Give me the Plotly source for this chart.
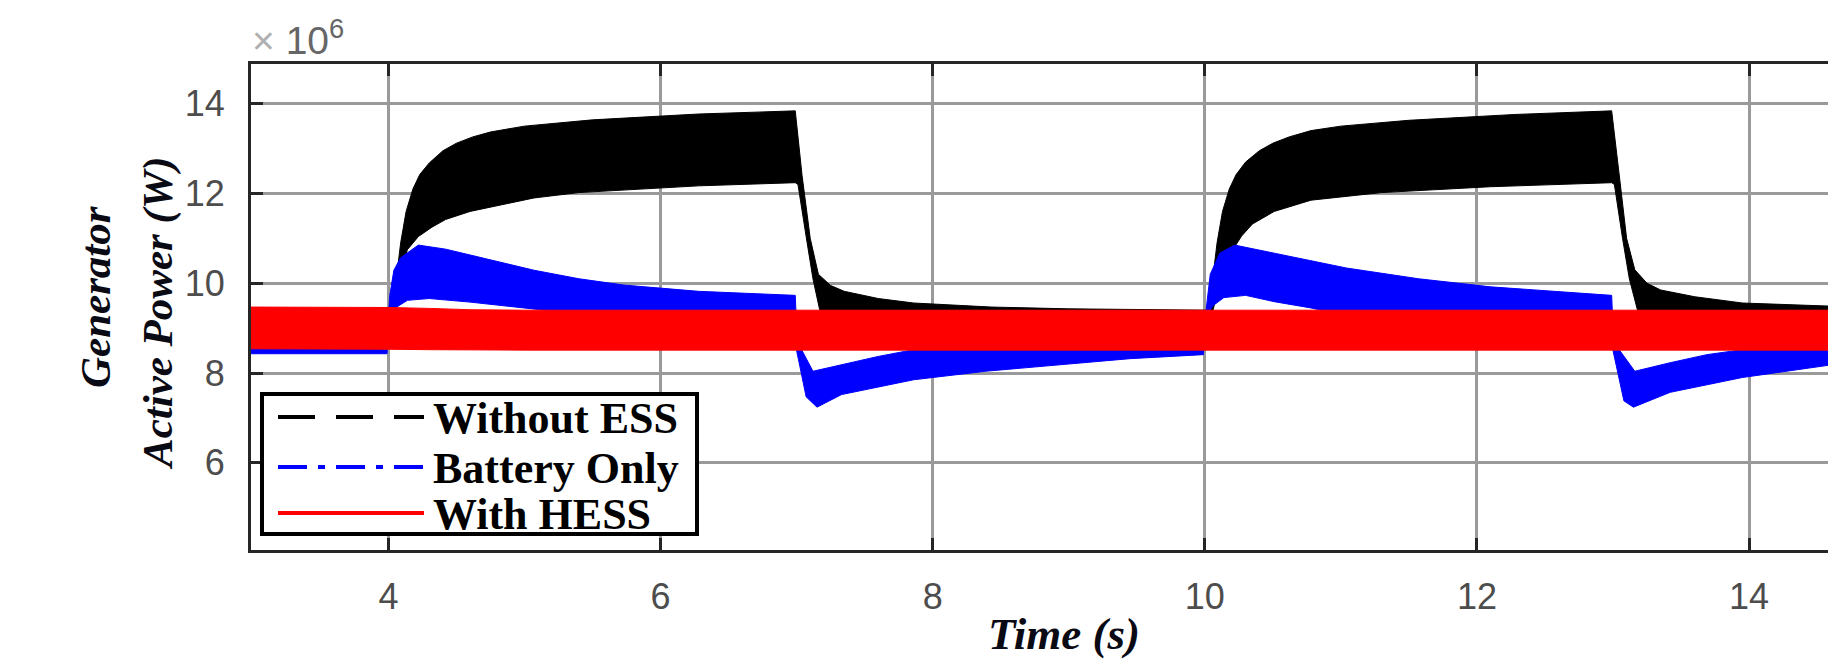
import plotly.graph_objects as go

# ---------------- data (MW, i.e. x10^6 W) ----------------
# Without ESS (black) - envelope of the oscillating trace
black_up_t = [2.98, 4.02, 4.05, 4.09, 4.13, 4.18, 4.23, 4.3, 4.4, 4.5, 4.62, 4.75, 5.0, 5.5, 6.28, 6.99,
              7.04, 7.1, 7.16, 7.25, 7.35, 7.6, 7.86, 8.43, 9.0, 10.02,
              10.05, 10.09, 10.13, 10.18, 10.23, 10.3, 10.4, 10.5, 10.62, 10.78, 11.0, 11.5, 12.28, 12.99,
              13.05, 13.1, 13.16, 13.25, 13.35, 13.6, 13.95, 14.6]
black_up_v = [9.3, 9.3, 9.9, 10.9, 11.6, 12.1, 12.42, 12.68, 12.95, 13.12, 13.26, 13.37, 13.5, 13.64, 13.77, 13.84,
              12.4, 11.0, 10.2, 9.95, 9.82, 9.66, 9.56, 9.47, 9.43, 9.40,
              9.9, 10.9, 11.6, 12.1, 12.42, 12.7, 12.95, 13.12, 13.26, 13.4, 13.5, 13.63, 13.76, 13.84,
              12.3, 11.0, 10.3, 10.0, 9.85, 9.7, 9.56, 9.49]
black_lo_t = [2.98, 4.02, 4.05, 4.09, 4.14, 4.22, 4.32, 4.42, 4.6, 4.75, 5.07, 5.4, 6.28, 6.99,
              7.01, 7.07, 7.12, 7.17, 7.3, 10.02,
              10.06, 10.12, 10.19, 10.27, 10.35, 10.51, 10.78, 11.3, 12.1, 12.99,
              13.01, 13.07, 13.12, 13.18, 13.3, 14.6]
black_lo_v = [8.7, 8.7, 9.5, 10.3, 10.75, 11.04, 11.25, 11.42, 11.6, 11.7, 11.9, 12.02, 12.17, 12.24,
              12.2, 11.04, 10.1, 9.4, 8.8, 8.8,
              9.4, 10.1, 10.67, 11.05, 11.32, 11.6, 11.85, 12.02, 12.15, 12.24,
              12.2, 11.0, 10.1, 9.4, 8.8, 8.8]

# Battery Only (blue)
blue_up_t = [2.98, 4.0, 4.01, 4.04, 4.09, 4.22, 4.42, 4.75, 5.07, 5.4, 5.73, 6.28, 6.99,
             7.0, 7.04, 7.12, 7.33, 7.6, 7.86, 8.3, 9.99,
             10.01, 10.04, 10.11, 10.22, 10.51, 11.04, 11.57, 12.1, 12.99,
             13.0, 13.05, 13.16, 13.42, 13.69, 13.95, 14.6]
blue_up_v = [9.3, 9.3, 9.73, 10.29, 10.57, 10.85, 10.76, 10.53, 10.29, 10.10, 9.96, 9.82, 9.73,
             9.0, 8.5, 8.04, 8.18, 8.37, 8.52, 8.7, 8.9,
             9.4, 10.2, 10.67, 10.85, 10.67, 10.34, 10.10, 9.92, 9.73,
             9.0, 8.5, 8.04, 8.23, 8.41, 8.52, 8.7]
blue_lo_t = [2.98, 3.99, 4.0, 4.05, 4.14, 4.3, 4.6, 5.0, 5.3, 6.99,
             7.0, 7.07, 7.15, 7.33, 7.86, 8.39, 8.92, 9.45, 9.99,
             10.0, 10.06, 10.14, 10.3, 10.51, 10.78, 11.0, 12.99,
             13.0, 13.08, 13.15, 13.42, 13.95, 14.6]
blue_lo_v = [8.43, 8.43, 9.2, 9.45, 9.62, 9.66, 9.58, 9.45, 9.35, 9.2,
             8.5, 7.47, 7.24, 7.52, 7.85, 8.04, 8.18, 8.32, 8.41,
             9.2, 9.5, 9.68, 9.73, 9.59, 9.45, 9.3, 9.2,
             8.5, 7.38, 7.24, 7.57, 7.9, 8.18]

# With HESS (red)
red_t = [2.98, 3.5, 4.0, 4.3, 4.6, 5.0, 6.0, 7.0, 8.0, 9.0, 10.0, 11.0, 12.0, 13.0, 14.0, 14.6]
red_up_v = [9.47, 9.47, 9.46, 9.44, 9.41, 9.40, 9.40, 9.40, 9.40, 9.40, 9.40, 9.40, 9.40, 9.40, 9.40, 9.40]
red_lo_v = [8.54, 8.54, 8.53, 8.52, 8.51, 8.51, 8.51, 8.51, 8.51, 8.51, 8.51, 8.51, 8.51, 8.51, 8.51, 8.51]

legend_names = ["Without ESS", "Battery Only", "With HESS"]
x_ticks = [4, 6, 8, 10, 12, 14]
y_ticks = [6, 8, 10, 12, 14]

# ---------------- layout geometry (pixels) ----------------
W, H = 1828, 663
L, R, T, B = 251, 1828, 64, 550


def px(x):
    return (x - L) / (R - L)


def py(y):
    return (B - y) / (B - T)


fig = go.Figure()


def band(t_lo, v_lo, t_up, v_up, color):
    fig.add_trace(go.Scatter(x=t_lo, y=v_lo, mode="lines", line=dict(color=color, width=1),
                             showlegend=False, hoverinfo="skip"))
    fig.add_trace(go.Scatter(x=t_up, y=v_up, mode="lines", line=dict(color=color, width=1),
                             fill="tonexty", fillcolor=color, showlegend=False, hoverinfo="skip"))


band(black_lo_t, black_lo_v, black_up_t, black_up_v, "#000000")
band(blue_lo_t, blue_lo_v, blue_up_t, blue_up_v, "#0000ff")
band(red_t, red_lo_v, red_t, red_up_v, "#ff0000")

axis_common = dict(
    showgrid=True, gridcolor="#9a9a9a", gridwidth=3,
    showline=True, linecolor="#262626", linewidth=3,
    ticks="inside", ticklen=12, tickwidth=2.5, tickcolor="#262626",
    tickfont=dict(family="Liberation Sans, Arial", size=36, color="#4d4d4d"),
    zeroline=False,
)
fig.update_xaxes(range=[2.99, 14.58], tickvals=x_ticks, mirror="ticks",
                 ticklabelstandoff=13, **axis_common)
fig.update_yaxes(range=[4.058, 14.884], tickvals=y_ticks, mirror=False,
                 ticklabelstandoff=16, **axis_common)

shapes = []
annotations = []

# custom legend box
shapes.append(dict(type="rect", xref="paper", yref="paper",
                   x0=px(262), x1=px(697), y0=py(534), y1=py(394),
                   line=dict(color="#000000", width=4), fillcolor="#ffffff", layer="above"))
leg_styles = [("#000000", "37px,21px"), ("#0000ff", "29px,11px,7px,11px"), ("#ff0000", "solid")]
leg_rows = [417, 467, 513]
for (col, dash), ry, name in zip(leg_styles, leg_rows, legend_names):
    shapes.append(dict(type="line", xref="paper", yref="paper",
                       x0=px(278), x1=px(424), y0=py(ry), y1=py(ry),
                       line=dict(color=col, width=4, dash=dash), layer="above"))
    annotations.append(dict(xref="paper", yref="paper", x=px(431), y=py(ry + 1),
                            xanchor="left", yanchor="middle", showarrow=False,
                            text="<b>%s</b>" % name,
                            font=dict(family="Liberation Serif, Times New Roman", size=44, color="#000000")))

# axis titles
title_font = dict(family="Liberation Serif, Times New Roman", size=43, color="#0a0a14")
annotations.append(dict(xref="paper", yref="paper", x=px(95), y=py(297), textangle=-90,
                        xanchor="center", yanchor="middle", showarrow=False,
                        text="<b><i>Generator</i></b>", font=title_font))
annotations.append(dict(xref="paper", yref="paper", x=px(158), y=py(314), textangle=-90,
                        xanchor="center", yanchor="middle", showarrow=False,
                        text="<b><i>Active Power (W)</i></b>", font=title_font))
annotations.append(dict(xref="paper", yref="paper", x=px(1064), y=py(634),
                        xanchor="center", yanchor="middle", showarrow=False,
                        text="<b><i>Time (s)</i></b>",
                        font=dict(family="Liberation Serif, Times New Roman", size=45, color="#0a0a14")))
# exponent label
annotations.append(dict(xref="paper", yref="paper", x=px(250), y=py(38),
                        xanchor="left", yanchor="middle", showarrow=False,
                        text='<span style="color:#b0b0b0">× </span>10<sup>6</sup>',
                        font=dict(family="Liberation Sans, Arial", size=39, color="#666666")))

fig.update_layout(
    width=W, height=H, autosize=False,
    margin=dict(l=L, r=W - R, t=T, b=H - B, pad=0),
    paper_bgcolor="#ffffff", plot_bgcolor="#ffffff",
    showlegend=False, shapes=shapes, annotations=annotations,
)

fig.write_html("out.html", config={"displayModeBar": False},
               post_script="document.body.style.margin='0';")
